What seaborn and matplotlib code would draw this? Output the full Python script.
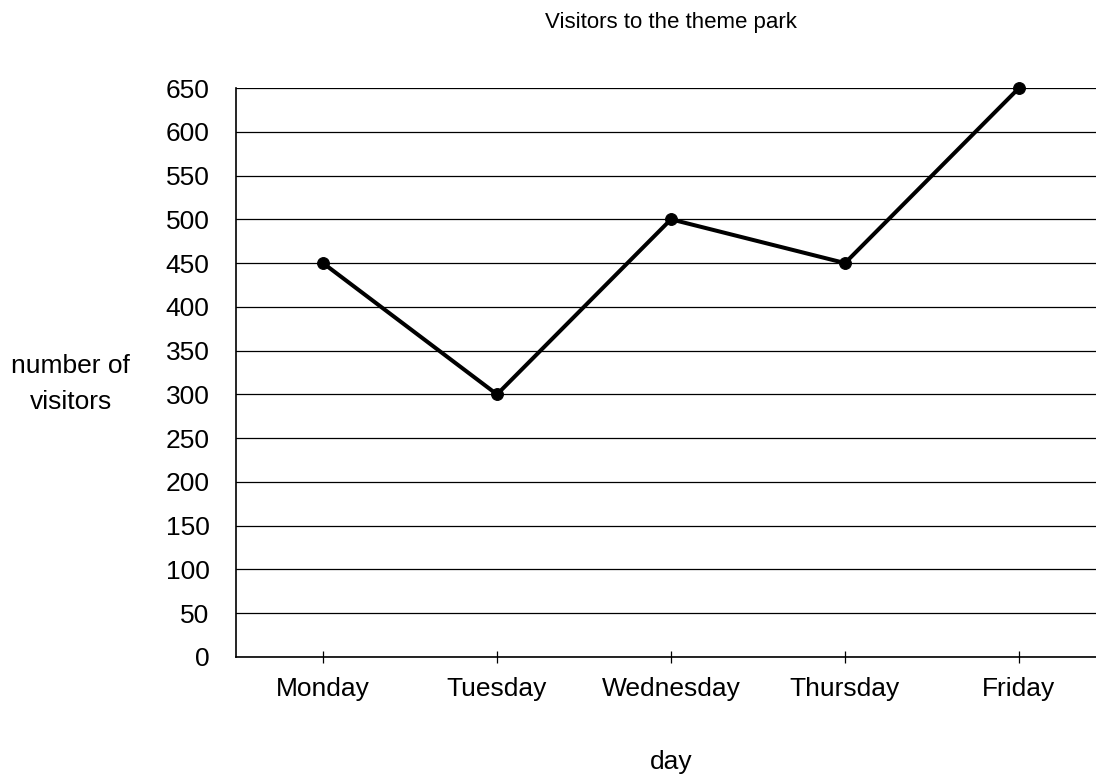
import seaborn as sns
import pandas as pd
import matplotlib.pyplot as plt

days = ["Monday", "Tuesday", "Wednesday", "Thursday", "Friday"]
visitors = [450, 300, 500, 450, 650]
yticks = list(range(0, 651, 50))

data = pd.DataFrame({"day": days, "visitors": visitors})

sns.set_style("white")
plt.rcParams["font.family"] = ["Liberation Sans", "DejaVu Sans"]
plt.rcParams["text.color"] = "black"
plt.rcParams["xtick.color"] = "black"
plt.rcParams["ytick.color"] = "black"
plt.rcParams["axes.labelcolor"] = "black"

fig = plt.figure(figsize=(10.96, 7.79), dpi=100)
ax = fig.add_axes([236 / 1096, 122 / 779, 870 / 1096, 569 / 779])

sns.lineplot(x="day", y="visitors", data=data, ax=ax, color="black",
             linewidth=2.9, marker="o", markersize=8.5, markeredgecolor="black",
             zorder=3, clip_on=False)

ax.set_xlim(-0.5, 4.5)
ax.set_ylim(0, 650)
ax.set_yticks(yticks)
ax.yaxis.grid(True, color="black", linewidth=0.9)
ax.xaxis.grid(False)
ax.tick_params(axis="y", left=False, length=0, labelsize=19, pad=19)
ax.tick_params(axis="x", bottom=True, direction="inout", length=9, width=0.9,
               color="black", labelsize=19, pad=10)

for side in ["top", "right"]:
    ax.spines[side].set_visible(False)
for side in ["left", "bottom"]:
    ax.spines[side].set_color("black")
    ax.spines[side].set_linewidth(1.2)

ax.set_xlabel("day", fontsize=19, labelpad=35)
ax.set_ylabel("number of\nvisitors", fontsize=19, rotation=0,
              ha="center", va="center", labelpad=0, linespacing=1.6)
ax.yaxis.set_label_coords(-0.19, 0.48)
ax.set_title("Visitors to the theme park", fontsize=16, pad=43)

fig.savefig("out.png", dpi=100)
